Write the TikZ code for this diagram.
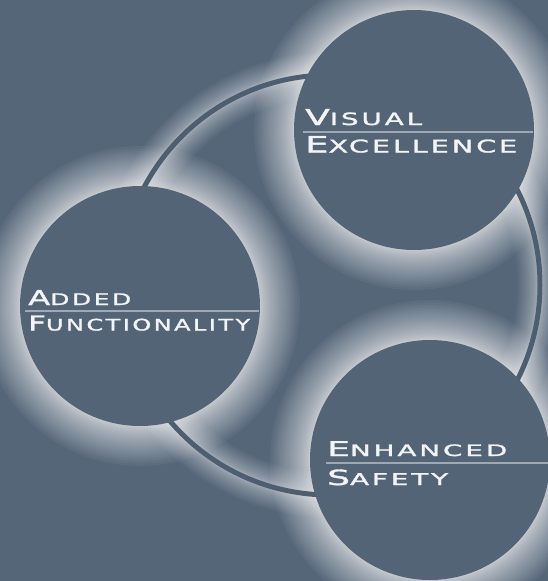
\documentclass[tikz,border=0pt]{standalone}
\usepackage{fontspec}
\usepackage{graphicx}
\setmainfont{DejaVu Sans}
\newfontfamily\capfont[FakeStretch=1.35,LetterSpace=14,FakeBold=1.6]{DejaVu Sans}
\definecolor{bg}{RGB}{86,102,121}
\definecolor{disc}{RGB}{84,100,119}
\definecolor{ringc}{RGB}{78,94,113}
\definecolor{txt}{RGB}{243,244,246}
\definecolor{uline}{RGB}{160,168,180}
\newcommand{\capword}[4]{\resizebox{#3pt}{#4pt}{\capfont{\fontsize{22}{22}\selectfont #1}{\fontsize{17}{17}\selectfont #2}}}
\tikzset{
  disk/.style={circle, fill=disc, minimum size=240pt, inner sep=0pt},
  glowfill/.style={fill=white, opacity=0.042},
  glowline/.style={draw=white, opacity=0.035},
  label/.style={anchor=base west, inner sep=0pt, text=txt},
  rule/.style={draw=uline, line width=1.8pt}
}
\begin{document}
\begin{tikzpicture}[x=1pt,y=-1pt]
\useasboundingbox (0,0) rectangle (548,581);
\clip (0,0) rectangle (548,581);
\fill[bg] (0,0) rectangle (548,581);
\coordinate (p1) at (414,130);
\coordinate (p2) at (140,306);
\coordinate (p3) at (430,460);
\coordinate (rc) at (330,285);
% glows of discs
\foreach \p in {p1,p2,p3}{
  \foreach \i [evaluate=\i as \rr using 120+40*(\i/30)^2] in {1,...,30}{
    \fill[glowfill] (\p) circle[radius=\rr pt];
  }
}
% glow of ring
\foreach \i [evaluate=\i as \ww using 5+2*20*(\i/20)^2] in {1,...,20}{
  \draw[glowline, line width=\ww pt] (rc) circle[radius=210pt];
}
\draw[ringc, line width=5pt] (rc) circle[radius=210pt];
% discs
\node[disk] (c1) at (p1) {};
\node[disk] (c2) at (p2) {};
\node[disk] (c3) at (p3) {};
% rules
\coordinate (r1a) at (303,131.7);
\coordinate (r1b) at (533,131.7);
\coordinate (r2a) at (25,311);
\coordinate (r2b) at (259,311);
\coordinate (r3a) at (326,463.3);
\coordinate (r3b) at (548,463.3);
\draw[rule] (r1a) -- (r1b);
\draw[rule] (r2a) -- (r2b);
\draw[rule] (r3a) -- (r3b);
% labels
\node[label] (t1a) at (305,125) {\capword{V}{ISUAL}{117}{16}};
\node[label] (t1b) at (305,152.5) {\capword{E}{XCELLENCE}{212}{16.5}};
\node[label] (t2a) at (28,305) {\capword{A}{DDED}{103}{15}};
\node[label] (t2b) at (28,330.5) {\capword{F}{UNCTIONALITY}{222}{15}};
\node[label] (t3a) at (327,456) {\capword{E}{NHANCED}{180}{14.8}};
\node[label] (t3b) at (327,485) {\capword{S}{AFETY}{121}{15.5}};
\end{tikzpicture}
\end{document}
